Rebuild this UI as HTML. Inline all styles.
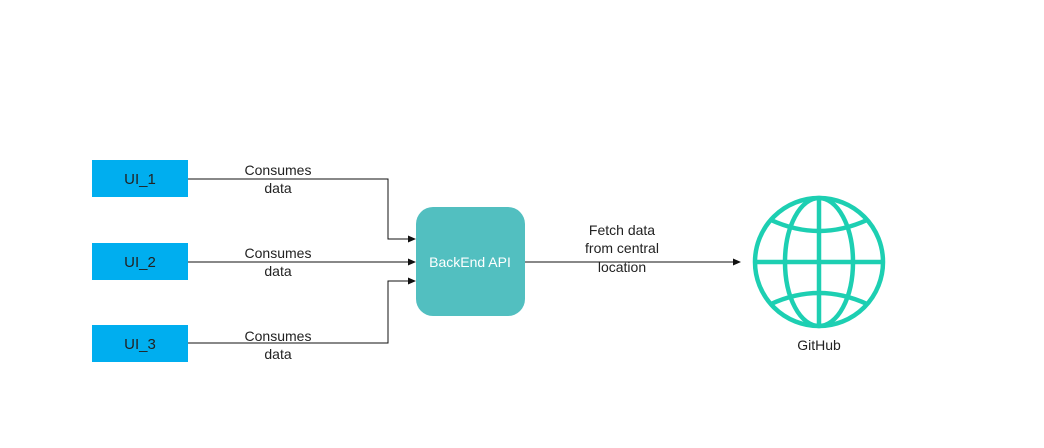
<!DOCTYPE html>
<html><head><style>
body{margin:0;background:#fff;width:1044px;height:443px;overflow:hidden}
svg text{font-family:"Liberation Sans",Arial,sans-serif;font-size:14px;fill:#222}
</style></head><body>
<svg width="1044" height="443" viewBox="0 0 1044 443">
<defs><marker id="a" markerWidth="8" markerHeight="8" refX="7" refY="4" orient="auto" markerUnits="userSpaceOnUse"><path d="M0,0.5 L8,4 L0,7.5 Z" fill="#111"/></marker></defs>
<rect x="92" y="160" width="96" height="37" fill="#00aeef"/>
<rect x="92" y="243" width="96" height="37" fill="#00aeef"/>
<rect x="92" y="325" width="96" height="37" fill="#00aeef"/>
<text x="140" y="184" text-anchor="middle" style="font-size:15px">UI_1</text>
<text x="140" y="267" text-anchor="middle" style="font-size:15px">UI_2</text>
<text x="140" y="349" text-anchor="middle" style="font-size:15px">UI_3</text>
<rect x="416" y="207" width="109" height="109" rx="17" fill="#52bfc0"/>
<text x="470" y="267" text-anchor="middle" style="fill:#fff;font-size:14px">BackEnd API</text>
<g fill="none" stroke="#111" stroke-width="1">
<path d="M188 179 H388 V239 H415" marker-end="url(#a)"/>
<path d="M188 262 H415" marker-end="url(#a)"/>
<path d="M188 343 H388 V281 H415" marker-end="url(#a)"/>
<path d="M525 262 H740" marker-end="url(#a)"/>
</g>
<text x="278" y="175" text-anchor="middle">Consumes</text><text x="278" y="193" text-anchor="middle">data</text>
<text x="278" y="258" text-anchor="middle">Consumes</text><text x="278" y="276" text-anchor="middle">data</text>
<text x="278" y="341" text-anchor="middle">Consumes</text><text x="278" y="359" text-anchor="middle">data</text>
<text x="622" y="235" text-anchor="middle">Fetch data</text>
<text x="622" y="253" text-anchor="middle">from central</text>
<text x="622" y="272" text-anchor="middle">location</text>
<g fill="none" stroke="#1dcfb2" stroke-width="4.5">
<circle cx="819" cy="262" r="64"/>
<ellipse cx="819" cy="262" rx="34" ry="64"/>
<line x1="819" y1="198" x2="819" y2="326"/>
<line x1="755" y1="262" x2="883" y2="262"/>
<path d="M771 220 Q819 242 867 220"/>
<path d="M771 304 Q819 282 867 304"/>
</g>
<text x="819" y="350" text-anchor="middle">GitHub</text>
</svg>
</body></html>
